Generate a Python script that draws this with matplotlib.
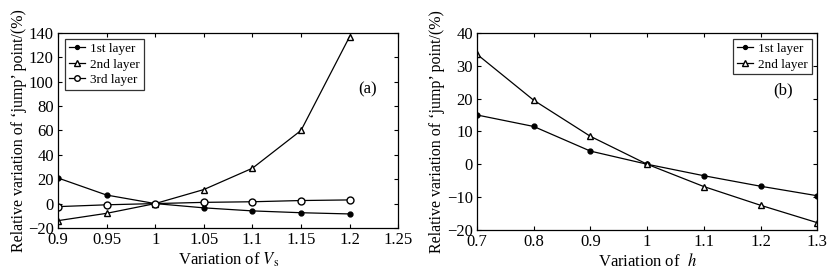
import matplotlib
matplotlib.use("Agg")
import matplotlib.pyplot as plt
import numpy as np

# panel (a): variation of Vs
vs = [0.9, 0.95, 1.0, 1.05, 1.1, 1.15, 1.2]
vs_layer1 = [21, 7, 0, -3.5, -6, -7.5, -8.5]
vs_layer2 = [-14, -8, 0, 11.5, 29, 60, 137]
vs_layer3 = [-2.5, -1, 0, 1, 1.5, 2.5, 3]

# panel (b): variation of h
h = [0.7, 0.8, 0.9, 1.0, 1.1, 1.2, 1.3]
h_layer1 = [15, 11.5, 4, 0, -3.5, -6.7, -9.6]
h_layer2 = [33.5, 19.5, 8.5, 0, -6.8, -12.5, -17.8]

plt.rcParams['font.family'] = ['Liberation Serif', 'DejaVu Serif']
plt.rcParams['mathtext.fontset'] = 'stix'
plt.rcParams['font.size'] = 11

fig = plt.figure(figsize=(8.28, 2.74), dpi=100)
ax1 = fig.add_axes([0.070, 0.168, 0.411, 0.712])
ax2 = fig.add_axes([0.576, 0.161, 0.411, 0.719])

style = dict(color='black', linewidth=0.9)
leg_kw = dict(fontsize=9.5, frameon=True, fancybox=False, edgecolor='black',
              borderpad=0.3, labelspacing=0.25, handlelength=1.2,
              handletextpad=0.4, borderaxespad=0.3, markerscale=0.8)

ax1.plot(vs, vs_layer1, marker='o', markersize=3.5, label='1st layer', **style)
ax1.plot(vs, vs_layer2, marker='^', markersize=5, markerfacecolor='white', label='2nd layer', **style)
ax1.plot(vs, vs_layer3, marker='o', markersize=5, markerfacecolor='white', label='3rd layer', **style)
ax1.set_xlim(0.9, 1.25)
ax1.set_ylim(-20, 140)
ax1.set_xticks([0.9, 0.95, 1, 1.05, 1.1, 1.15, 1.2, 1.25])
ax1.set_xticklabels(['0.9', '0.95', '1', '1.05', '1.1', '1.15', '1.2', '1.25'])
ax1.set_yticks(np.arange(-20, 141, 20))
ax1.set_xlabel('Variation of $V_\\mathrm{s}$', fontsize=12, labelpad=2)
ax1.set_ylabel('Relative variation of \u2018jump\u2019 point/(%)', fontsize=11.5, labelpad=1)
ax1.text(0.91, 0.71, '(a)', transform=ax1.transAxes, fontsize=12, ha='center', va='center')
leg1 = ax1.legend(loc='upper left', bbox_to_anchor=(0.01, 0.99), **leg_kw)
leg1.get_frame().set_linewidth(0.9)

ax2.plot(h, h_layer1, marker='o', markersize=3.5, label='1st layer', **style)
ax2.plot(h, h_layer2, marker='^', markersize=5, markerfacecolor='white', label='2nd layer', **style)
ax2.set_xlim(0.7, 1.3)
ax2.set_ylim(-20, 40)
ax2.set_xticks([0.7, 0.8, 0.9, 1.0, 1.1, 1.2, 1.3])
ax2.set_xticklabels(['0.7', '0.8', '0.9', '1', '1.1', '1.2', '1.3'])
ax2.set_yticks(np.arange(-20, 41, 10))
ax2.set_xlabel('Variation of  $h$', fontsize=12, labelpad=2)
ax2.set_ylabel('Relative variation of \u2018jump\u2019 point/(%)', fontsize=11.5, labelpad=1)
ax2.text(0.90, 0.71, '(b)', transform=ax2.transAxes, fontsize=12, ha='center', va='center')
leg2 = ax2.legend(loc='upper right', bbox_to_anchor=(0.995, 0.99), **leg_kw)
leg2.get_frame().set_linewidth(0.9)

for ax in (ax1, ax2):
    ax.tick_params(direction='in', top=True, right=True, labelsize=12, length=3, pad=3)
    for sp in ax.spines.values():
        sp.set_linewidth(0.9)

fig.savefig('out.png', dpi=100)
